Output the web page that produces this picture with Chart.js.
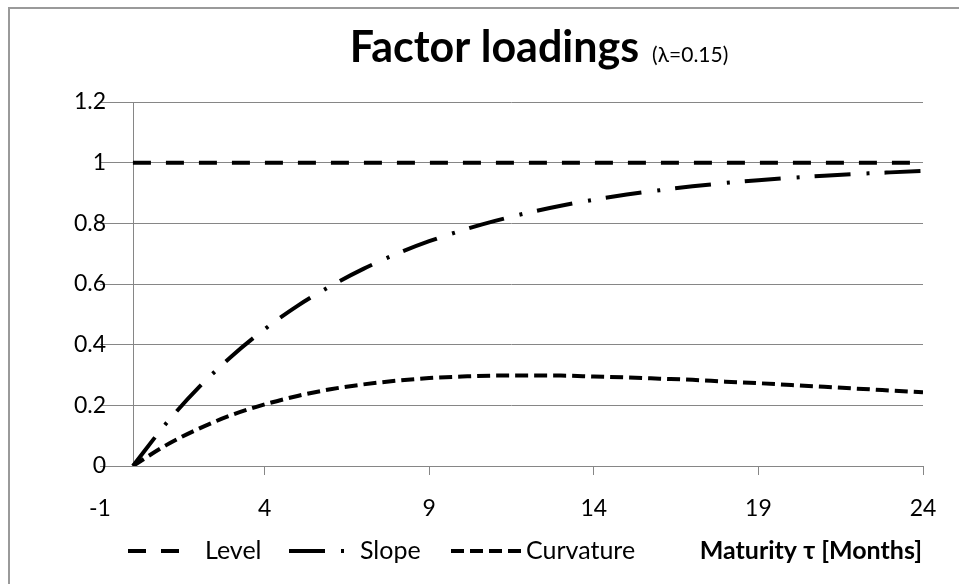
<!DOCTYPE html>
<html>
<head>
<meta charset="utf-8">
<script src="https://cdn.jsdelivr.net/npm/chart.js@4.4.1/dist/chart.umd.min.js"></script>
<style>
  html, body { margin: 0; padding: 0; background: #fff; }
  #wrap { width: 959px; height: 584px; position: relative; }
</style>
</head>
<body>
<div id="wrap"><canvas id="c" width="959" height="584"></canvas></div>
<script>
// Nelson-Siegel factor loadings by maturity (months), lambda = 0.15
const maturities = [0, 1, 2, 3, 4, 5, 6, 7, 8, 9, 10, 11, 12, 13, 14, 15, 16, 17, 18, 19, 20, 21, 22, 23, 24];
const levelLoadings = [1, 1, 1, 1, 1, 1, 1, 1, 1, 1, 1, 1, 1, 1, 1, 1, 1, 1, 1, 1, 1, 1, 1, 1, 1];
const slopeLoadings = [0, 0.139, 0.259, 0.362, 0.451, 0.528, 0.593, 0.650, 0.699, 0.741, 0.777, 0.808, 0.835,
                       0.858, 0.878, 0.895, 0.909, 0.922, 0.933, 0.942, 0.950, 0.957, 0.963, 0.968, 0.973];
const curvatureLoadings = [0, 0.068, 0.123, 0.168, 0.203, 0.231, 0.253, 0.269, 0.281, 0.290, 0.295, 0.298, 0.298,
                           0.298, 0.295, 0.292, 0.288, 0.284, 0.278, 0.273, 0.267, 0.261, 0.255, 0.249, 0.243];
const xTickValues = [-1, 4, 9, 14, 19, 24];
const seriesNames = ['Level', 'Slope', 'Curvature'];
const chartTitle = 'Factor loadings';
const chartSubtitle = '(λ=0.15)';
const xAxisTitle = 'Maturity τ [Months]';

const FONT = 'Lato, "Open Sans", sans-serif';
const GRID = '#868686';

const toPoints = vals => maturities.map((m, i) => ({ x: m, y: vals[i] }));

const lineStyles = [
  { borderWidth: 4, borderDash: [18, 15] },
  { borderWidth: 4, borderDash: [36, 16, 3, 15] },
  { borderWidth: 4, borderDash: [13, 6] }
];
const seriesValues = [levelLoadings, slopeLoadings, curvatureLoadings];

const datasets = seriesNames.map((name, i) => ({
  label: name,
  data: toPoints(seriesValues[i]),
  borderColor: '#000',
  backgroundColor: '#000',
  borderWidth: lineStyles[i].borderWidth,
  borderDash: lineStyles[i].borderDash,
  borderCapStyle: 'butt',
  pointRadius: 0,
  fill: false,
  cubicInterpolationMode: 'monotone'
}));

// Frame, vertical axis at maturity 0, title and bottom legend row
const decorations = {
  id: 'decorations',
  beforeDraw(chart) {
    const ctx = chart.ctx;
    ctx.save();
    ctx.fillStyle = '#fff';
    ctx.fillRect(0, 0, chart.width, chart.height);
    ctx.strokeStyle = '#9a9a9a';
    ctx.lineWidth = 2;
    ctx.beginPath();
    ctx.moveTo(9, chart.height);
    ctx.lineTo(9, 8);
    ctx.lineTo(chart.width, 8);
    ctx.stroke();
    ctx.restore();
  },
  beforeDatasetsDraw(chart) {
    const ctx = chart.ctx;
    const xs = chart.scales.x;
    const area = chart.chartArea;
    const x0 = Math.round(xs.getPixelForValue(0)) + 0.5;
    ctx.save();
    ctx.strokeStyle = GRID;
    ctx.lineWidth = 1;
    ctx.beginPath();
    ctx.moveTo(x0, area.top);
    ctx.lineTo(x0, area.bottom);
    ctx.stroke();
    ctx.restore();
  },
  afterDraw(chart) {
    const ctx = chart.ctx;
    ctx.save();
    ctx.fillStyle = '#000';
    ctx.textBaseline = 'alphabetic';
    ctx.textAlign = 'left';
    // title
    const titleFont = 'bold 43px ' + FONT;
    const subFont = '21px ' + FONT;
    ctx.font = titleFont;
    const tw = ctx.measureText(chartTitle).width;
    ctx.font = subFont;
    const sw = ctx.measureText(chartSubtitle).width;
    const gap = 13;
    const left = 539 - (tw + gap + sw) / 2;
    ctx.font = titleFont;
    ctx.fillText(chartTitle, left, 62);
    ctx.font = subFont;
    ctx.fillText(chartSubtitle, left + tw + gap, 62);

    // legend row
    const y = 551;
    const items = [
      { i: 0, x0: 128, x1: 182, tx: 205 },
      { i: 1, x0: 289, x1: 346, tx: 360 },
      { i: 2, x0: 451, x1: 522, tx: 526 }
    ];
    ctx.textBaseline = 'middle';
    items.forEach(it => {
      const ds = chart.data.datasets[it.i];
      ctx.strokeStyle = ds.borderColor;
      ctx.lineWidth = ds.borderWidth;
      ctx.lineCap = 'butt';
      ctx.setLineDash(ds.borderDash);
      ctx.beginPath();
      ctx.moveTo(it.x0, y);
      ctx.lineTo(it.x1, y);
      ctx.stroke();
      ctx.setLineDash([]);
      ctx.font = '25px ' + FONT;
      ctx.fillText(ds.label, it.tx, y);
    });
    ctx.font = 'bold 25px ' + FONT;
    ctx.textAlign = 'right';
    ctx.fillText(xAxisTitle, 922, y);
    ctx.restore();
  }
};

const formatTick = v => String(Number(v.toFixed(1)));

new Chart(document.getElementById('c'), {
  type: 'line',
  data: { datasets },
  plugins: [decorations],
  options: {
    responsive: false,
    animation: false,
    devicePixelRatio: 1,
    layout: { padding: { top: 102, right: 36, left: 0, bottom: 0 } },
    plugins: { legend: { display: false }, title: { display: false }, tooltip: { enabled: false } },
    scales: {
      x: {
        type: 'linear',
        min: -1,
        max: 24,
        afterBuildTicks: s => { s.ticks = xTickValues.map(v => ({ value: v })); },
        afterFit: s => { s.height = 118; },
        grid: {
          display: true,
          drawOnChartArea: false,
          drawTicks: true,
          tickLength: 9,
          color: c => (c.tick && c.tick.value === -1) ? 'rgba(0,0,0,0)' : GRID
        },
        border: { display: true, color: GRID, width: 1 },
        ticks: {
          padding: 20,
          color: '#000',
          maxRotation: 0,
          autoSkip: false,
          font: { family: FONT, size: 23 },
          callback: v => formatTick(v)
        }
      },
      y: {
        min: 0,
        max: 1.2,
        afterFit: s => {
          s.width = 100;
          // labels sit slightly over the plot edge, so they are not clipped to the axis box
          s._computeLabelArea = () => undefined;
        },
        grid: { color: GRID, lineWidth: 1, drawTicks: false },
        border: { display: false },
        ticks: {
          stepSize: 0.2,
          padding: -6,
          color: '#000',
          font: { family: FONT, size: 23 },
          callback: v => formatTick(v)
        }
      }
    }
  }
});
</script>
</body>
</html>
